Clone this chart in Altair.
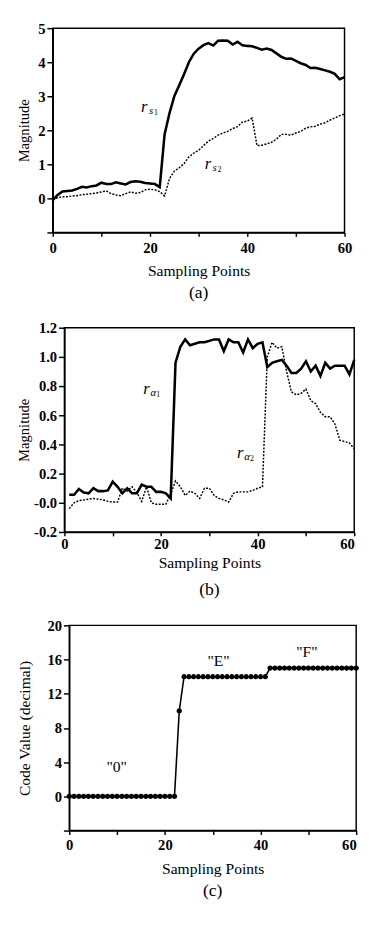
import altair as alt
import pandas as pd

# ---------------- data ----------------
x_a = list(range(0, 61))
rs1 = [-0.05, 0.1, 0.2, 0.22, 0.23, 0.28, 0.34, 0.32, 0.36, 0.38,
       0.46, 0.42, 0.42, 0.47, 0.44, 0.41, 0.48, 0.5, 0.49, 0.45,
       0.44, 0.42, 0.33, 1.88, 2.5, 3.0, 3.32, 3.65, 4.0, 4.25,
       4.4, 4.5, 4.56, 4.49, 4.63, 4.64, 4.63, 4.52, 4.6, 4.5,
       4.48, 4.47, 4.42, 4.37, 4.4, 4.36, 4.26, 4.16, 4.1, 4.11,
       4.04, 3.97, 3.92, 3.83, 3.84, 3.8, 3.76, 3.72, 3.66, 3.5, 3.56]
rs2 = [-0.03, 0.02, 0.05, 0.05, 0.07, 0.08, 0.11, 0.12, 0.14, 0.16,
       0.19, 0.22, 0.14, 0.1, 0.08, 0.14, 0.19, 0.15, 0.17, 0.25,
       0.27, 0.25, 0.2, 0.07, 0.58, 0.8, 0.9, 1.02, 1.22, 1.33,
       1.41, 1.55, 1.68, 1.76, 1.86, 1.92, 1.97, 2.05, 2.11, 2.24,
       2.27, 2.36, 1.55, 1.56, 1.6, 1.65, 1.74, 1.88, 1.88, 1.86,
       1.92, 1.97, 2.06, 2.1, 2.12, 2.18, 2.22, 2.3, 2.36, 2.43, 2.48]

x_b = list(range(1, 61))
ra1 = [0.055, 0.055, 0.095, 0.07, 0.065, 0.1, 0.08, 0.08, 0.085, 0.145,
       0.11, 0.065, 0.1, 0.065, 0.065, 0.125, 0.11, 0.11, 0.075, 0.075,
       0.065, 0.03, 0.96, 1.07, 1.12, 1.08, 1.09, 1.1, 1.1, 1.11,
       1.12, 1.12, 1.04, 1.12, 1.1, 1.1, 1.03, 1.12, 1.06, 1.09,
       1.1, 0.93, 0.96, 0.97, 0.98, 0.94, 0.89, 0.89, 0.92, 0.97,
       0.9, 0.94, 0.87, 0.96, 0.92, 0.94, 0.94, 0.94, 0.88, 0.98]
ra2 = [-0.04, 0.0, 0.015, 0.02, 0.025, 0.03, 0.025, 0.02, 0.01, 0.005,
       0.005, 0.1, 0.08, 0.11, 0.07, 0.01, 0.11, 0.0, -0.01, -0.01,
       -0.01, 0.06, 0.15, 0.11, 0.05, 0.08, 0.065, 0.03, 0.1, 0.1,
       0.05, 0.03, 0.02, 0.005, 0.065, 0.075, 0.075, 0.075, 0.085, 0.1,
       0.11, 1.0, 1.1, 1.06, 1.07, 0.9, 0.76, 0.74, 0.75, 0.78,
       0.7, 0.68, 0.62, 0.59, 0.59, 0.54, 0.43, 0.42, 0.41, 0.37]

x_c = list(range(0, 61))
code = [0, 0, 0, 0, 0, 0, 0, 0, 0, 0,
        0, 0, 0, 0, 0, 0, 0, 0, 0, 0,
        0, 0, 0, 10, 14, 14, 14, 14, 14, 14,
        14, 14, 14, 14, 14, 14, 14, 14, 14, 14,
        14, 14, 15, 15, 15, 15, 15, 15, 15, 15,
        15, 15, 15, 15, 15, 15, 15, 15, 15, 15, 15]

# annotation labels
lab_a_x = [18.8, 31.9]
lab_a_y = [2.68, 1.0]
lab_a_sub = ["s", "s"]
lab_a_idx = ["1", "2"]
lab_b_x = [17.0, 36.4]
lab_b_y = [0.78, 0.34]
lab_b_sub = ["α", "α"]
lab_b_idx = ["1", "2"]
lab_c_x = [9.9, 31.2, 49.7]
lab_c_y = [3.4, 15.8, 16.9]
lab_c_text = ['"0"', '"E"', '"F"']

x_ticks = [0, 10, 20, 30, 40, 50, 60]
ya_ticks = [-1, 0, 1, 2, 3, 4, 5]
yb_ticks = [-0.2, 0.0, 0.2, 0.4, 0.6, 0.8, 1.0, 1.2]
yc_ticks = [-4, 0, 4, 8, 12, 16, 20]

FONT = "Liberation Serif"


def xaxis(label_pad, title_pad, flush_last):
    align = "center"
    if flush_last:
        align = {"condition": {"test": "datum.value >= 60", "value": "right"},
                 "value": "center"}
    return alt.Axis(values=x_ticks, title="Sampling Points",
                    labelExpr="datum.value % 20 == 0 ? datum.label : ''",
                    tickSize=4, labelPadding=label_pad, titlePadding=title_pad,
                    grid=False, domainColor="black", domainWidth=1.5,
                    tickColor="black", tickWidth=1.5, labelColor="black",
                    titleColor="black", labelFont=FONT, titleFont=FONT,
                    labelFontSize=15, titleFontSize=16, titleFontWeight="normal",
                    labelFontWeight="bold", labelFlush=False, labelAlign=align)


def yaxis(title, values, expr, title_pad, title_size=15):
    return alt.Axis(values=values, title=title, labelExpr=expr,
                    tickSize=6, labelPadding=2, titlePadding=title_pad,
                    grid=False, domainColor="black", domainWidth=1.5,
                    tickColor="black", tickWidth=1.5, labelColor="black",
                    titleColor="black", labelFont=FONT, titleFont=FONT,
                    labelFontSize=15, titleFontSize=title_size,
                    titleFontWeight="normal", labelFontWeight="bold")


def caption(text, w, y):
    return alt.Chart(pd.DataFrame({"t": [text]})).mark_text(
        font=FONT, fontSize=18, baseline="middle", align="center", color="black"
    ).encode(x=alt.value(w / 2), y=alt.value(y), text="t:N")


def rlabels(xs, ys, subs, idxs, xenc, yenc):
    df = pd.DataFrame({"x": xs, "y": ys, "r": ["r"] * len(xs), "s": subs, "i": idxs})
    base = alt.Chart(df).encode(x=xenc("x"), y=yenc("y"))
    r = base.mark_text(font=FONT, fontSize=17, fontStyle="italic", color="black",
                       baseline="middle").encode(text="r:N")
    s = base.mark_text(font=FONT, fontSize=11, fontStyle="italic", color="black",
                       baseline="middle", dx=7, dy=4).encode(text="s:N")
    i = base.mark_text(font=FONT, fontSize=8, color="black",
                       baseline="middle", dx=12, dy=6).encode(text="i:N")
    return r + s + i


def spacer(w):
    return alt.Chart(pd.DataFrame({"t": [""]})).mark_point(opacity=0).encode(
        x=alt.value(0), y=alt.value(0)
    ).properties(width=w, height=1, view=alt.ViewBackground(stroke="transparent"))


# ---------------- panel (a) ----------------
WA, HA = 300, 210
xs_a = alt.Scale(domain=[0, 60], nice=False, zero=False)
ys_a = alt.Scale(domain=[-1, 5], nice=False, zero=False)
xax_a = xaxis(5, 7, False)
yax_a = yaxis("Magnitude", ya_ticks, "datum.value < 0 ? '' : datum.label", 6)
XA = lambda f: alt.X(f + ":Q", scale=xs_a, axis=xax_a)
YA = lambda f: alt.Y(f + ":Q", scale=ys_a, axis=yax_a)
df_a = pd.DataFrame({"x": x_a, "rs1": rs1, "rs2": rs2})
line_a1 = alt.Chart(df_a).mark_line(color="black", strokeWidth=2.6).encode(
    x=XA("x"), y=YA("rs1"))
line_a2 = alt.Chart(df_a).mark_line(color="black", strokeWidth=1.5, strokeDash=[2, 1.5]).encode(
    x=XA("x"), y=YA("rs2"))
panel_a = alt.layer(line_a1, line_a2,
                    rlabels(lab_a_x, lab_a_y, lab_a_sub, lab_a_idx, XA, YA),
                    caption("(a)", WA, HA + 62)).properties(width=WA, height=HA)

# ---------------- panel (b) ----------------
WB, HB = 298, 210
xs_b = alt.Scale(domain=[0, 60], nice=False, zero=False)
ys_b = alt.Scale(domain=[-0.2, 1.2], nice=False, zero=False)
yb_expr = ("datum.value < -0.01 ? '-' + format(-datum.value, '.1f') : "
           "(abs(datum.value) < 0.01 ? '-0.0' : format(datum.value, '.1f'))")
xax_b = xaxis(1, 4, True)
yax_b = yaxis("Magnitude", yb_ticks, yb_expr, 2)
XB = lambda f: alt.X(f + ":Q", scale=xs_b, axis=xax_b)
YB = lambda f: alt.Y(f + ":Q", scale=ys_b, axis=yax_b)
df_b = pd.DataFrame({"x": x_b, "ra1": ra1, "ra2": ra2})
line_b1 = alt.Chart(df_b).mark_line(color="black", strokeWidth=2.6).encode(
    x=XB("x"), y=YB("ra1"))
line_b2 = alt.Chart(df_b).mark_line(color="black", strokeWidth=1.5, strokeDash=[2, 1.5]).encode(
    x=XB("x"), y=YB("ra2"))
panel_b = alt.layer(line_b1, line_b2,
                    rlabels(lab_b_x, lab_b_y, lab_b_sub, lab_b_idx, XB, YB),
                    caption("(b)", WB, HB + 60)).properties(width=WB, height=HB)

# ---------------- panel (c) ----------------
WC, HC = 295, 211
xs_c = alt.Scale(domain=[0, 60], nice=False, zero=False)
ys_c = alt.Scale(domain=[-4, 20], nice=False, zero=False)
xax_c = xaxis(3, 9, True)
yax_c = yaxis("Code Value (decimal)", yc_ticks, "datum.value < 0 ? '' : datum.label", 15, 16)
XC = lambda f: alt.X(f + ":Q", scale=xs_c, axis=xax_c)
YC = lambda f: alt.Y(f + ":Q", scale=ys_c, axis=yax_c)
df_c = pd.DataFrame({"x": x_c, "code": code})
ASTER = "M-1,0L1,0M0,-1L0,1M-0.7,-0.7L0.7,0.7M-0.7,0.7L0.7,-0.7"
line_c = alt.Chart(df_c).mark_line(color="black", strokeWidth=1.6).encode(
    x=XC("x"), y=YC("code"))
pts_c = alt.Chart(df_c).mark_point(shape=ASTER, size=30, filled=False,
                                   color="black", strokeWidth=1.6, opacity=1).encode(
    x=XC("x"), y=YC("code"))
df_lc = pd.DataFrame({"x": lab_c_x, "y": lab_c_y, "t": lab_c_text})
txt_c = alt.Chart(df_lc).mark_text(font=FONT, fontSize=16, color="black",
                                   baseline="middle").encode(
    x=XC("x"), y=YC("y"), text="t:N")
panel_c = alt.layer(line_c, pts_c, txt_c,
                    caption("(c)", WC, HC + 62)).properties(width=WC, height=HC)

rows = [alt.hconcat(spacer(1), panel_a, spacing=0),
        alt.hconcat(spacer(1), panel_b, spacing=0),
        alt.hconcat(spacer(1), panel_c, spacing=0)]

chart = alt.vconcat(*rows, spacing=18).properties(
    padding={"left": 0, "top": 0, "right": 0, "bottom": 0},
    background="white"
).configure_view(stroke="black", strokeWidth=1.5)

chart.save("out.html", embed_options={"renderer": "svg", "actions": False})
